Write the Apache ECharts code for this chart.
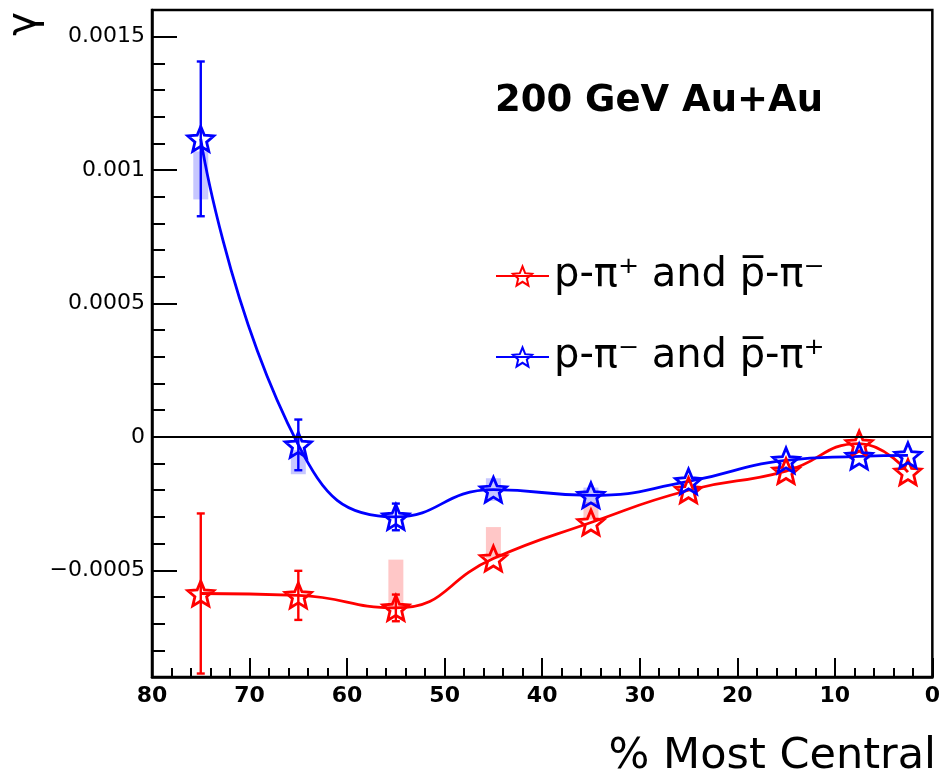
<!DOCTYPE html>
<html>
<head>
<meta charset="utf-8">
<script src="https://cdn.jsdelivr.net/npm/echarts@6/dist/echarts.min.js"></script>
<style>
  html, body { margin: 0; padding: 0; background: #fff; }
  #chart { width: 943px; height: 782px; }
</style>
</head>
<body>
<div id="chart"></div>
<script>
// Centrality bins (bin centres, % most central)
const centrality = [75, 65, 55, 45, 35, 25, 15, 7.5, 2.5];

// p-pi+ and pbar-pi- correlator
const gammaSS = [-0.000587, -0.000594, -0.000641, -0.000456, -0.000321, -0.000200, -0.000128, -0.000025, -0.000132];
const statSS  = [0.00030, 0.000092, 0.00005, 0, 0, 0, 0, 0, 0];
const sysLowSS  = [null, null, -0.00064, -0.000456, -0.00031, null, null, null, null];
const sysHighSS = [null, null, -0.00046, -0.000338, -0.000244, null, null, null, null];

// p-pi- and pbar-pi+ correlator
const gammaOS = [0.001117, -0.00003, -0.00030, -0.000198, -0.000219, -0.000167, -0.000088, -0.000073, -0.000069];
const statOS  = [0.00029, 0.000095, 0.00005, 0, 0, 0, 0, 0, 0];
const sysLowOS  = [0.00089, -0.00014, null, -0.00024, -0.000255, null, null, null, null];
const sysHighOS = [0.00107, -0.00005, null, -0.000155, -0.00019, null, null, null, null];

// Axis ticks
const yMajorTicks = [-0.0005, 0, 0.0005, 0.001, 0.0015];
const yTickLabels = ['\u22120.0005', '0', '0.0005', '0.001', '0.0015'];

const seriesNames = ['p-\u03c0\u207a and p\u0305-\u03c0\u207b', 'p-\u03c0\u207b and p\u0305-\u03c0\u207a'];

const RED = '#ff0000';
const BLUE = '#0000ff';
const STAR = 'path://M0,-1 L0.2645,-0.364 L0.951,-0.309 L0.428,0.139 L0.588,0.809 L0,0.45 L-0.588,0.809 L-0.428,0.139 L-0.951,-0.309 L-0.2645,-0.364 Z';

function points(ys) { return centrality.map((x, i) => [x, ys[i]]); }
function errRows(ys, errs) {
  const rows = [];
  centrality.forEach((x, i) => { if (errs[i] > 0) rows.push([x, ys[i] - errs[i], ys[i] + errs[i]]); });
  return rows;
}
function sysRows(lo, hi) {
  const rows = [];
  centrality.forEach((x, i) => { if (lo[i] !== null) rows.push([x, lo[i], hi[i]]); });
  return rows;
}

function renderErr(color) {
  return function (params, api) {
    const x = api.value(0);
    const a = api.coord([x, api.value(1)]);
    const b = api.coord([x, api.value(2)]);
    const cap = 4;
    const st = { stroke: color, lineWidth: 2.4 };
    return { type: 'group', children: [
      { type: 'line', shape: { x1: a[0], y1: a[1], x2: b[0], y2: b[1] }, style: st },
      { type: 'line', shape: { x1: a[0] - cap, y1: a[1], x2: a[0] + cap, y2: a[1] }, style: st },
      { type: 'line', shape: { x1: b[0] - cap, y1: b[1], x2: b[0] + cap, y2: b[1] }, style: st }
    ]};
  };
}
function renderSys(fill) {
  return function (params, api) {
    const x = api.value(0);
    const a = api.coord([x, api.value(1)]);
    const b = api.coord([x, api.value(2)]);
    const w = 15;
    return { type: 'rect', shape: { x: a[0] - w / 2, y: b[1], width: w, height: a[1] - b[1] }, style: { fill: fill } };
  };
}

const chart = echarts.init(document.getElementById('chart'), null, { renderer: 'canvas' });

const yRange = { min: -0.0009, max: 0.0016 };

chart.setOption({
  animation: false,
  backgroundColor: '#fff',
  textStyle: { fontFamily: 'DejaVu Sans' },
  grid: { left: 152, right: 6, top: 10, bottom: 105, show: true, borderColor: '#000', borderWidth: 2.5, backgroundColor: 'transparent' },
  title: {
    text: '200 GeV Au+Au', left: 495, top: 83, padding: 0,
    textStyle: { fontFamily: 'DejaVu Sans', fontWeight: 'bold', fontSize: 37, color: '#000' }
  },
  legend: {
    data: seriesNames,
    orient: 'vertical', left: 490, top: 251, itemGap: 41,
    itemWidth: 53, itemHeight: 24,
    textStyle: { fontFamily: 'DejaVu Sans', fontSize: 40, color: '#000' }
  },
  graphic: [
    { type: 'text', x: 25, y: 24, rotation: Math.PI / 2,
      style: { text: '\u03b3', fontFamily: 'DejaVu Sans', fontSize: 40, fill: '#000', align: 'center', verticalAlign: 'middle' } },
    { type: 'text', x: 936, y: 757,
      style: { text: '% Most Central', fontFamily: 'DejaVu Sans', fontSize: 43, fill: '#000', align: 'right', verticalAlign: 'middle' } }
  ],
  xAxis: {
    type: 'value', min: 0, max: 80, interval: 10, inverse: true,
    axisLine: { show: true, onZero: false, lineStyle: { color: '#000', width: 2.5 } },
    axisTick: { show: true, inside: true, length: 19, lineStyle: { color: '#000', width: 2 } },
    minorTick: { show: true, splitNumber: 5, length: 9, lineStyle: { color: '#000', width: 2 } },
    axisLabel: { fontFamily: 'DejaVu Sans', fontWeight: 'bold', fontSize: 22, color: '#000', margin: 8 },
    splitLine: { show: false }
  },
  yAxis: [
    {
      type: 'value', min: yRange.min, max: yRange.max, interval: 0.0001, position: 'left', offset: 0,
      axisLine: { show: true, onZero: false, lineStyle: { color: '#000', width: 2.5 } },
      axisTick: { show: true, inside: true, length: 13, lineStyle: { color: '#000', width: 2 } },
      axisLabel: { show: false },
      splitLine: { show: false }
    },
    {
      type: 'value', min: yRange.min, max: yRange.max, position: 'left', offset: 0,
      axisLine: { show: false, onZero: false },
      axisTick: { show: true, inside: true, length: 25, customValues: yMajorTicks, lineStyle: { color: '#000', width: 2 } },
      axisLabel: {
        customValues: yMajorTicks, margin: 7, fontFamily: 'DejaVu Sans', fontSize: 22, color: '#000',
        formatter: function (v) {
          const i = yMajorTicks.findIndex(t => Math.abs(t - v) < 1e-9);
          return i >= 0 ? yTickLabels[i] : '';
        }
      },
      splitLine: { show: false }
    }
  ],
  series: [
    { type: 'custom', name: 'sysSS', z: 1, silent: true, renderItem: renderSys('rgba(255,0,0,0.22)'), data: sysRows(sysLowSS, sysHighSS), encode: { x: 0, y: [1, 2] } },
    { type: 'custom', name: 'sysOS', z: 1, silent: true, renderItem: renderSys('rgba(0,0,255,0.22)'), data: sysRows(sysLowOS, sysHighOS), encode: { x: 0, y: [1, 2] } },
    {
      type: 'line', name: seriesNames[0], z: 3, smooth: 0.5, data: points(gammaSS),
      symbol: STAR, symbolSize: 26, symbolKeepAspect: true,
      lineStyle: { color: RED, width: 2.8 },
      itemStyle: { color: 'rgba(255,255,255,0)', borderColor: RED, borderWidth: 2.8 }
    },
    {
      type: 'line', name: seriesNames[1], z: 3, smooth: 0.5, data: points(gammaOS),
      symbol: STAR, symbolSize: 26, symbolKeepAspect: true,
      lineStyle: { color: BLUE, width: 2.8 },
      itemStyle: { color: 'rgba(255,255,255,0)', borderColor: BLUE, borderWidth: 2.8 },
      markLine: {
        silent: true, symbol: ['none', 'none'], label: { show: false },
        lineStyle: { color: '#000', width: 2, type: 'solid' },
        data: [{ yAxis: 0 }]
      }
    },
    { type: 'custom', name: 'errSS', z: 4, silent: true, renderItem: renderErr(RED), data: errRows(gammaSS, statSS), encode: { x: 0, y: [1, 2] } },
    { type: 'custom', name: 'errOS', z: 4, silent: true, renderItem: renderErr(BLUE), data: errRows(gammaOS, statOS), encode: { x: 0, y: [1, 2] } }
  ]
});
</script>
</body>
</html>
